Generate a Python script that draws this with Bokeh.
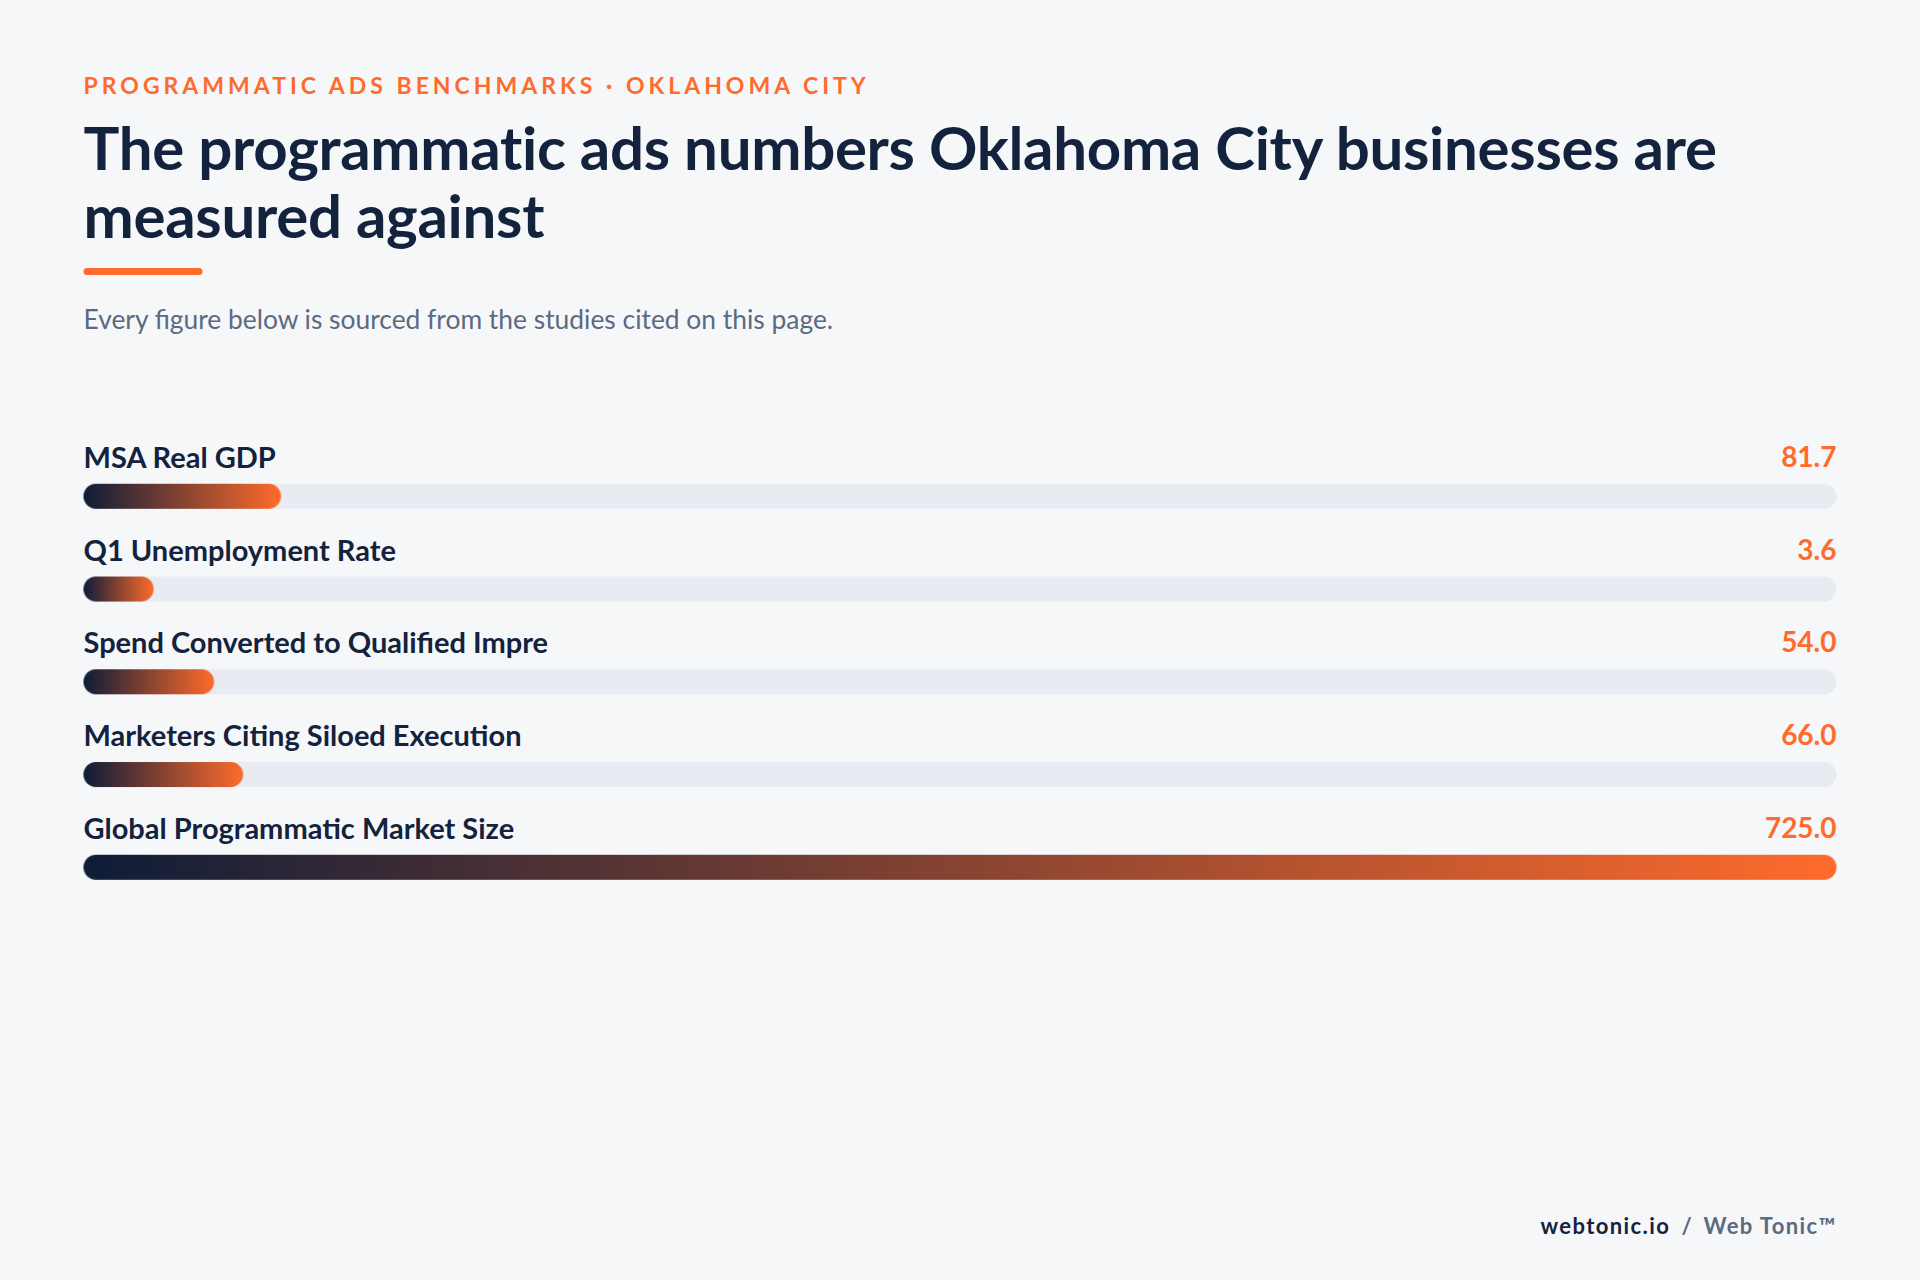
import numpy as np
from bokeh.plotting import figure
from bokeh.models import Range1d
from bokeh.layouts import column
from bokeh.core.properties import value
from bokeh.embed import file_html
from bokeh.resources import INLINE

# ---------------- data ----------------
KICKER = "PROGRAMMATIC ADS BENCHMARKS \u00b7 OKLAHOMA CITY"
TITLE_LINES = ["The programmatic ads numbers Oklahoma City businesses are", "measured against"]
SUBTITLE = "Every figure below is sourced from the studies cited on this page."
labels = ["MSA Real GDP", "Q1 Unemployment Rate", "Spend Converted to Qualified Impre",
          "Marketers Citing Siloed Execution", "Global Programmatic Market Size"]
values = [81.7, 3.6, 54.0, 66.0, 725.0]
FOOTER_SITE = "webtonic.io"
FOOTER_SEP = "/"
FOOTER_BRAND = "Web Tonic\u2122"

# ---------------- style ----------------
BG = "#f6f7f9"
NAVY = "#13223d"
ORANGE = "#ff6b2c"
SLATE = "#5b6a82"
TRACK = "#e8ebf2"
GRAD_START = (15, 29, 56)
GRAD_END = (255, 107, 44)
FONT = value("Lato")

W, H = 1904, 1264
BANDS = [0, 108, 262, 1190, 1264]   # page bands: kicker, title, body, footer
X0, X1 = 83, 1836          # track left / right (page px)
TRACK_W = X1 - X0
BAR_H = 25
FIRST_BAR_TOP = 483.3
ROW_PITCH = 92.75
MIN_FRAC = 0.04
BASE_SHIFT = 0.39          # text anchor offset (fraction of font size)


def make_fig(y0, y1, styles=None):
    f = figure(width=W, height=y1 - y0, output_backend="svg", toolbar_location=None,
               x_range=Range1d(0, W), y_range=Range1d(-y1, -y0),
               min_border=0, min_border_left=0, min_border_right=0,
               min_border_top=0, min_border_bottom=0)
    f.xaxis.visible = False
    f.yaxis.visible = False
    f.grid.visible = False
    f.outline_line_color = None
    f.background_fill_color = None
    f.border_fill_color = None
    if styles:
        f.styles = styles
    return f


def Y(page_y):
    return -page_y


def TY(baseline, size):
    return -(baseline - BASE_SHIFT * size)


head = make_fig(BANDS[0], BANDS[1], {"letter-spacing": "4px"})
tfig = make_fig(BANDS[1], BANDS[2], {"letter-spacing": "-0.3px", "stroke": NAVY,
                                      "stroke-width": "1.7px", "stroke-linejoin": "round"})
p = make_fig(BANDS[2], BANDS[3])
foot = make_fig(BANDS[3], BANDS[4], {"letter-spacing": "1.4px"})

# kicker
head.text(x=[X0], y=[TY(93.3, 23)], text=[KICKER], text_font=FONT, text_font_style="bold",
          text_font_size="23px", text_color=ORANGE, text_baseline="alphabetic", text_align="left")

# title
tfig.text(x=[X0, X0], y=[TY(170, 60), TY(238, 60)], text=TITLE_LINES, text_font=FONT,
          text_font_style="bold", text_font_size="60px", text_color=NAVY,
          text_baseline="alphabetic", text_align="left")

# accent underline
p.segment(x0=[X0 + 3.5], x1=[202 - 3.5], y0=[Y(271)], y1=[Y(271)], line_width=7,
          line_cap="round", line_color=ORANGE)

# subtitle
p.text(x=[X0], y=[TY(328.3, 26.4)], text=[SUBTITLE], text_font=FONT, text_font_size="26.4px",
       text_color=SLATE, text_baseline="alphabetic", text_align="left")

# rows
vmax = max(values)
tops = [FIRST_BAR_TOP + i * ROW_PITCH for i in range(len(values))]
centers = [t + BAR_H / 2 for t in tops]

# tracks
p.segment(x0=[X0 + BAR_H / 2] * len(values), x1=[X1 - BAR_H / 2] * len(values),
          y0=[Y(c) for c in centers], y1=[Y(c) for c in centers],
          line_width=BAR_H, line_cap="round", line_color=TRACK)


def capsule_gradient(width, height):
    wpx = int(np.ceil(width))
    r = height / 2.0
    xs = np.arange(wpx) + 0.5
    ys = np.arange(height) + 0.5
    XX, YY = np.meshgrid(xs, ys)
    cx = np.clip(XX, r, max(width - r, r))
    d = np.sqrt((XX - cx) ** 2 + (YY - r) ** 2)
    alpha = np.clip(r - d + 0.5, 0, 1)
    t = np.clip(XX / width, 0, 1)
    img = np.zeros((height, wpx, 4), dtype=np.uint8)
    for k in range(3):
        img[:, :, k] = (GRAD_START[k] + (GRAD_END[k] - GRAD_START[k]) * t).astype(np.uint8)
    img[:, :, 3] = (alpha * 255).astype(np.uint8)
    return img.view(dtype=np.uint32).reshape((height, wpx)), wpx


for v, top in zip(values, tops):
    frac = max(v / vmax, MIN_FRAC)
    bw = frac * TRACK_W
    img, wpx = capsule_gradient(bw, BAR_H)
    p.image_rgba(image=[img], x=X0, y=Y(top + BAR_H), dw=wpx, dh=BAR_H)

label_base = [t - 16 for t in tops]
p.text(x=[X0] * len(labels), y=[TY(b, 29) for b in label_base], text=labels, text_font=FONT,
       text_font_style="bold", text_font_size="29px", text_color=NAVY,
       text_baseline="alphabetic", text_align="left")
p.text(x=[X1] * len(values), y=[TY(b, 29) for b in label_base], text=[f"{v:.1f}" for v in values],
       text_font=FONT, text_font_style="bold", text_font_size="28px", text_color=ORANGE,
       text_baseline="alphabetic", text_align="right")

# footer (left-anchored pieces; letter-spacing widens them to the right)
FB = 1234
foot.text(x=[1540], y=[TY(FB, 22)], text=[FOOTER_SITE], text_font=FONT, text_font_style="bold",
          text_font_size="22px", text_color=NAVY, text_baseline="alphabetic", text_align="left")
foot.text(x=[1681], y=[TY(FB, 22)], text=[FOOTER_SEP], text_font=FONT, text_font_style="bold",
          text_font_size="22px", text_color=SLATE, text_baseline="alphabetic", text_align="left")
foot.text(x=[1703], y=[TY(FB, 22)], text=[FOOTER_BRAND], text_font=FONT, text_font_style="bold",
          text_font_size="22px", text_color=SLATE, text_baseline="alphabetic", text_align="left")

layout = column(head, tfig, p, foot, spacing=0)
html = file_html(layout, INLINE, title="Programmatic ads benchmarks")
html = html.replace("<head>", "<head><style>html,body{background:%s;}</style>" % BG, 1)
open("out.html", "w").write(html)
